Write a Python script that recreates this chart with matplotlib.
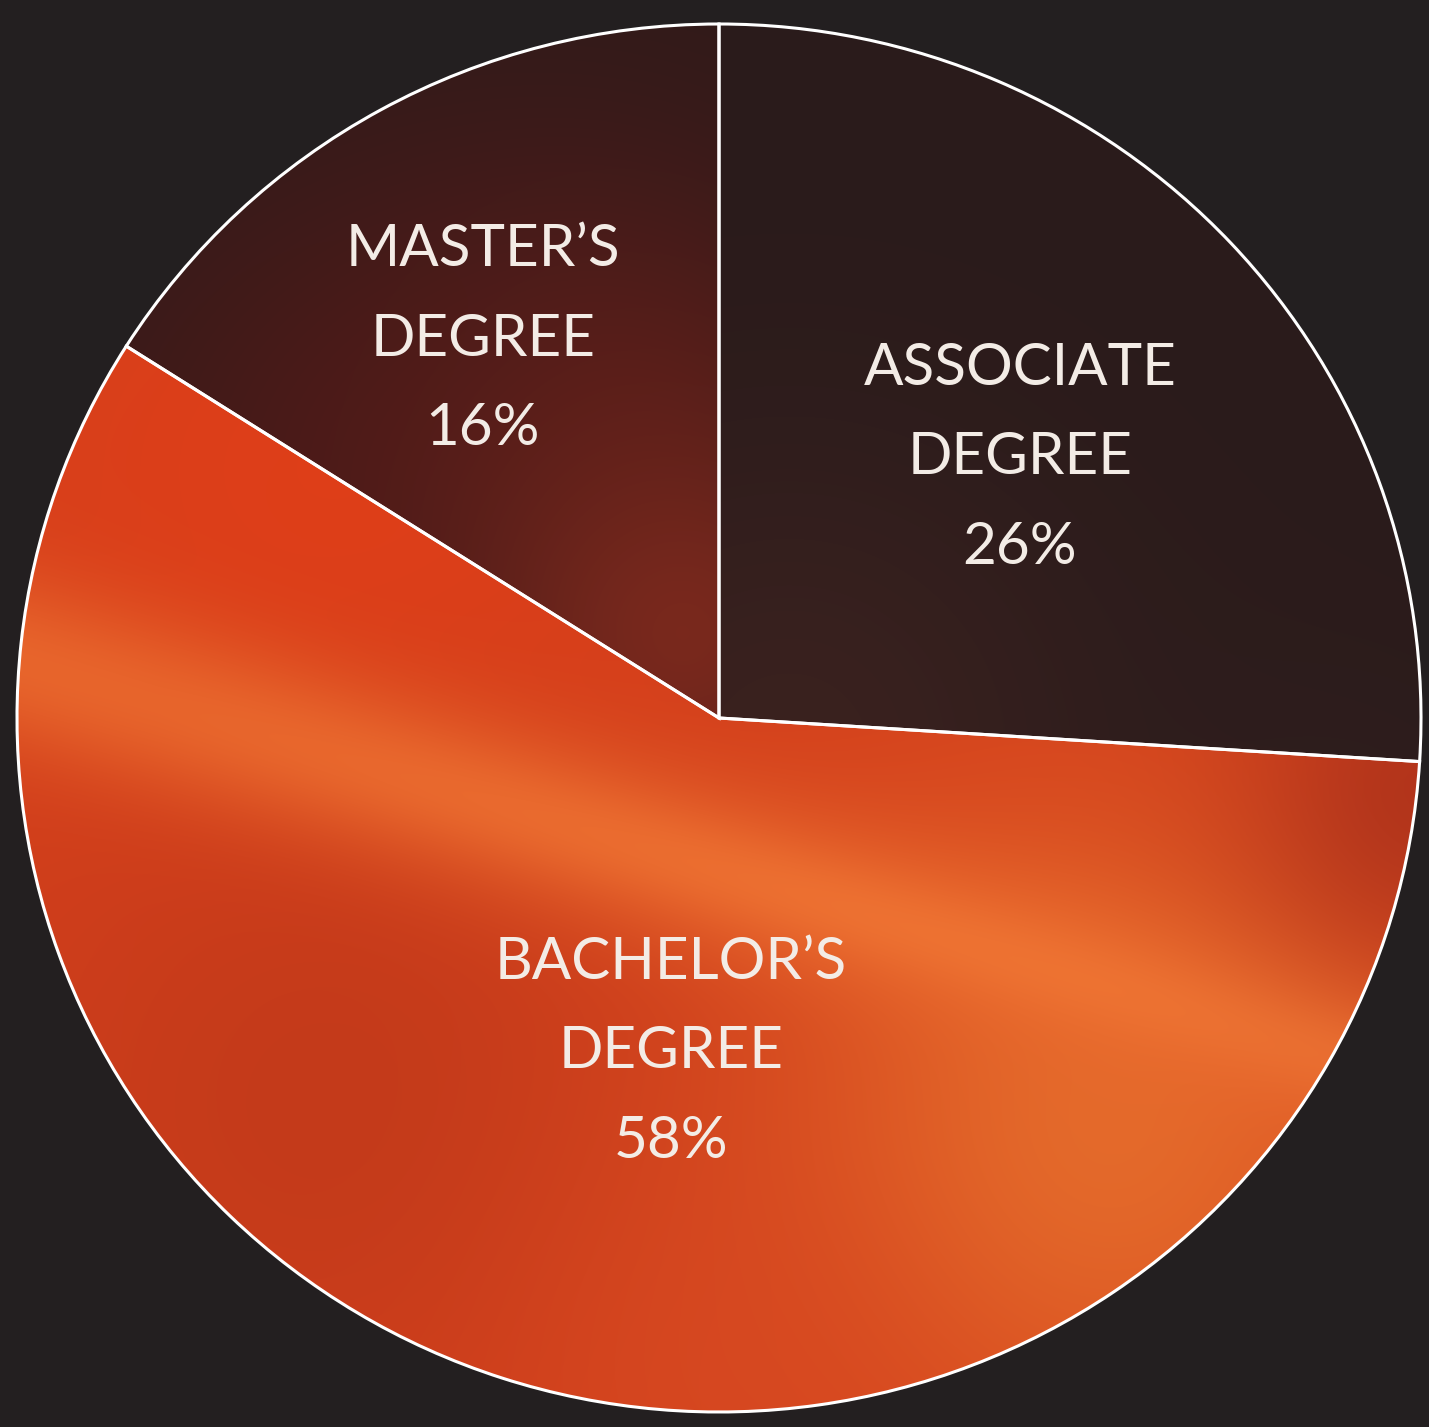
import numpy as np
import matplotlib.pyplot as plt
from matplotlib.colors import to_rgb

# data
labels = ["ASSOCIATE\nDEGREE", "BACHELOR\u2019S\nDEGREE", "MASTER\u2019S\nDEGREE"]
shares = [26, 58, 16]
base_colors = ["#2c1c1c", "#d4401c", "#4a1b1a"]

bg = "#231f20"
W, H, dpi = 1429, 1427, 100
fig = plt.figure(figsize=(W / dpi, H / dpi), dpi=dpi, facecolor=bg)
ax = fig.add_axes([0, 0, 1, 1])
ax.set_facecolor(bg)

wedges, _ = ax.pie(shares, colors=base_colors, startangle=90, counterclock=False,
                   radius=1.0, wedgeprops=dict(edgecolor="white", linewidth=2.2))

# soft shading inside each wedge (drawn as images clipped to the wedges)
n = 500
xx, yy = np.meshgrid(np.linspace(-1.05, 1.05, n), np.linspace(-1.05, 1.05, n))
ext = (-1.05, 1.05, -1.05, 1.05)


def blob(x0, y0, rad):
    return np.exp(-((xx - x0) ** 2 + (yy - y0) ** 2) / rad ** 2)


def paint(base, layers):
    img = np.ones((n, n, 3)) * np.array(to_rgb(base))
    for col, w in layers:
        w = np.clip(w, 0, 1)[..., None]
        img = img * (1 - w) + np.array(to_rgb(col)) * w
    return img


# associate: dark brown, a touch warmer near the centre
img_a = paint("#2a1b1b", [("#3e2320", 0.8 * blob(0.1, -0.05, 0.45)),
                          ("#33201f", 0.5 * blob(0.9, -0.2, 0.3))])

# master's: dark at the top, redder towards the centre
img_m = paint("#2f1a1a", [("#4c1a18", 0.9 * blob(-0.5, 0.35, 0.45)),
                          ("#5a1d19", 0.8 * blob(-0.15, 0.45, 0.35)),
                          ("#7c291d", 0.95 * blob(-0.05, 0.12, 0.3))])

# bachelor's: red-orange with a soft light diagonal band
d = yy + 0.3 * xx
img_b = paint("#d4401c", [
    ("#e23e18", 0.8 * blob(-0.55, 0.3, 0.45)),
    ("#bd381a", 0.7 * blob(-0.55, -0.55, 0.5)),
    ("#e8742e", 0.8 * blob(0.55, -0.6, 0.45)),
    ("#ec6e30", 0.8 * np.exp(-((d + 0.22) / 0.13) ** 2)),
    ("#f27a36", 0.5 * np.exp(-((d + 0.22) / 0.06) ** 2) * np.clip(xx + 0.8, 0, 1)),
    ("#9c2a1a", 0.6 * blob(1.0, -0.12, 0.25)),
    ("#d84a22", 0.6 * blob(0.0, -0.95, 0.3)),
])

for img, w in zip([img_a, img_b, img_m], wedges):
    im = ax.imshow(img, extent=ext, origin="lower", zorder=1.5, interpolation="bilinear")
    im.set_clip_path(w)
    w.set_zorder(2)
    w.set_facecolor("none")

# labels (pixel positions of the middle line)
rx, ry, cx, cy = 702, 694, 719, 709
label_pos = [(1020, 458), (671, 1052), (483, 339)]
for lab, s, (px, py) in zip(labels, shares, label_pos):
    x = (px - cx) / rx
    y = ((H - py) - cy) / ry
    ax.text(x, y, f"{lab}\n{s}%", ha="center", va="center", color="#f3ece6",
            fontsize=42, family="Lato", linespacing=1.85, zorder=3)

ax.set_xlim(-cx / rx, (W - cx) / rx)
ax.set_ylim(-cy / ry, (H - cy) / ry)
ax.set_aspect("auto")
ax.axis("off")
fig.savefig("out.png", dpi=dpi, facecolor=bg)
